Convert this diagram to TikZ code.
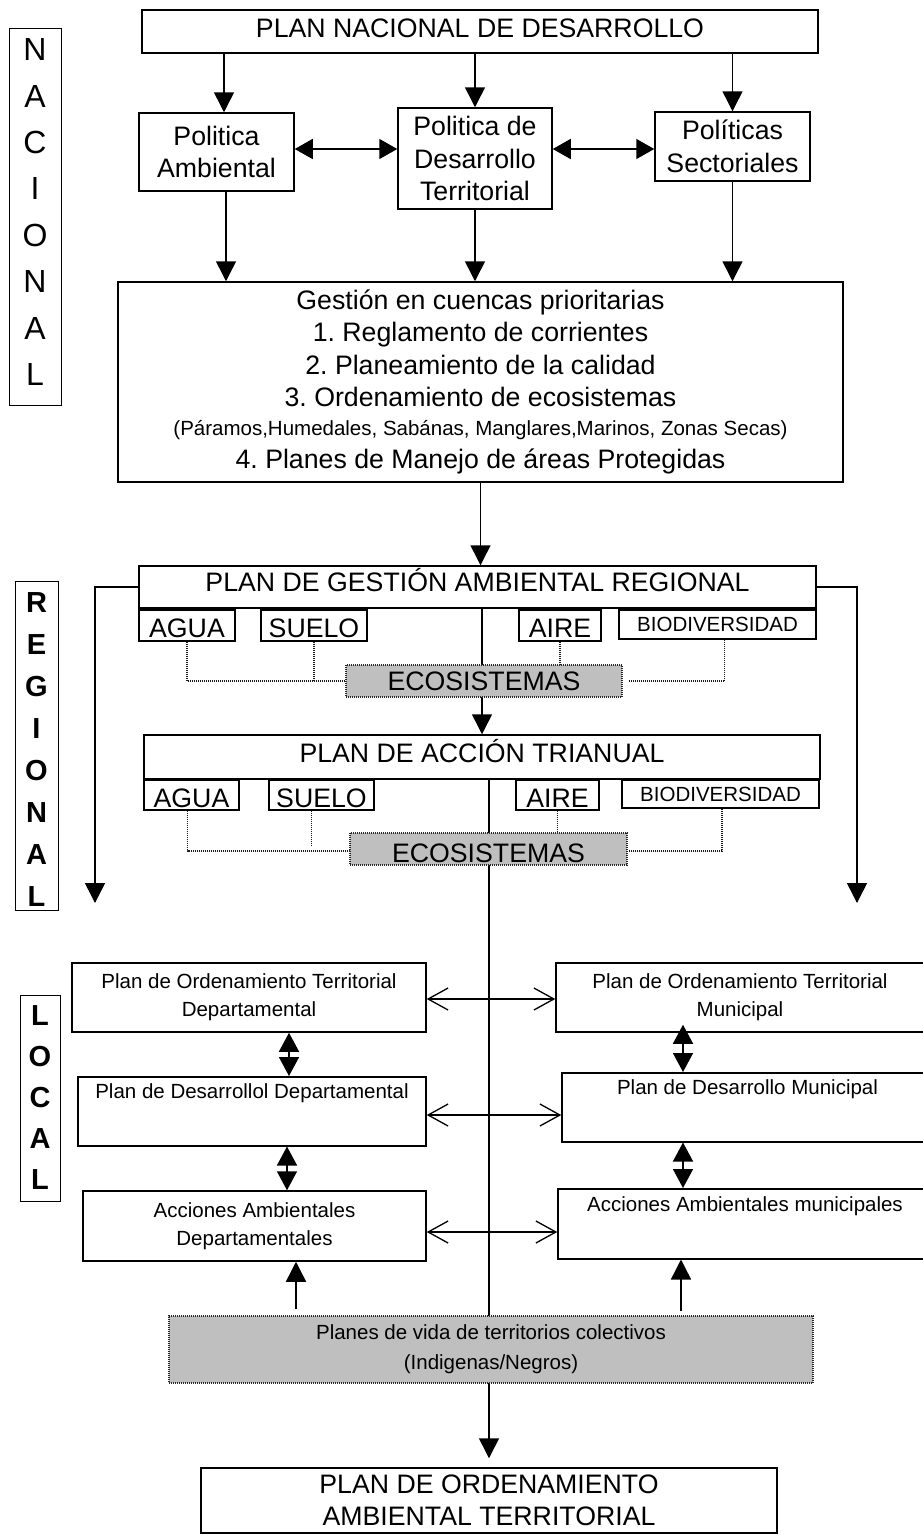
\documentclass[tikz,border=0pt]{standalone}
\usepackage{fontspec}
\setmainfont{Liberation Sans}
\usetikzlibrary{arrows.meta,calc}
\pgfdeclarelayer{bg}
\pgfsetlayers{bg,main}
\newcommand\fbig{\fontsize{26.7}{32.5}\selectfont}
\newcommand\fsmall{\fontsize{20.5}{28}\selectfont}
\newcommand\fnac{\fontsize{32}{46.4}\selectfont}
\newcommand\freg{\fontsize{29}{42}\selectfont\bfseries}
\newcommand\floc{\fontsize{29}{41}\selectfont\bfseries}
\begin{document}
\frenchspacing
\begin{tikzpicture}[x=1pt,y=-1pt,
  box/.style={draw, line width=1.5pt, inner sep=0pt, align=center, font=\fbig},
  sbox/.style={draw, line width=1.5pt, inner sep=0pt, align=center, font=\fsmall},
  subbig/.style={box, text height=24pt, text depth=0pt},
  subsmall/.style={sbox},
  gbox/.style={fill=black!25, draw=black!85, line width=1.2pt, dash pattern=on 1pt off 1pt, inner sep=0pt, align=center},
  sidebox/.style={draw, line width=1.2pt, inner sep=0pt},
  arr/.style={line width=1.5pt, -{Triangle[length=20pt,width=20pt]}},
  darr/.style={line width=1.5pt, {Triangle[length=18pt,width=20pt]}-{Triangle[length=18pt,width=20pt]}},
  ldarr/.style={line width=1.5pt, {Triangle[length=19pt,width=20pt]}-{Triangle[length=19pt,width=20pt]}},
  oarr/.style={line width=1.3pt, {Straight Barb[length=20pt,width=22pt]}-{Straight Barb[length=20pt,width=22pt]}},
  dline/.style={line width=1.1pt, dash pattern=on 1pt off 1pt, black!90}
]
\useasboundingbox (0,0) rectangle (923,1535);

% side labels
\node[sidebox, minimum width=52pt, minimum height=377pt, anchor=north west] (nac) at (9,28) {};
\node[font=\fnac, align=center, inner sep=0pt, anchor=north] (nactxt) at (35,38.5) {N\\A\\C\\I\\O\\N\\A\\L};
\node[sidebox, minimum width=43pt, minimum height=329pt, anchor=north west] (reg) at (15,581) {};
\node[font=\freg, align=center, inner sep=0pt, anchor=north] (regtxt) at (36.5,592.6) {R\\E\\G\\I\\O\\N\\A\\L};
\node[sidebox, minimum width=40pt, minimum height=206pt, anchor=north west] (loc) at (20,995) {};
\node[font=\floc, align=center, inner sep=0pt, anchor=north] (loctxt) at (40,1005.6) {L\\O\\C\\A\\L};

% national level
\node[box, minimum width=676pt, minimum height=43pt, text height=19pt, text depth=8pt] (title) at (480,31.5) {PLAN NACIONAL DE DESARROLLO};
\node[box, minimum width=155pt, minimum height=78pt] (polA) at (216.5,152) {Politica\\Ambiental};
\node[box, minimum width=154pt, minimum height=101pt] (polD) at (475,158.5) {Politica de\\Desarrollo\\Territorial};
\node[box, minimum width=155pt, minimum height=69pt] (polS) at (732.5,146.5) {Políticas\\Sectoriales};
\node[box, minimum width=725pt, minimum height=200pt] (gestion) at (480.5,382) {Gestión en cuencas prioritarias\\1. Reglamento de corrientes\\2. Planeamiento de la calidad\\3. Ordenamiento de ecosistemas\\[-4pt]{\fsmall(Páramos,Humedales, Sabánas, Manglares,Marinos, Zonas Secas)}\\[1pt]4. Planes de Manejo de áreas Protegidas};

% regional level
\node[box, minimum width=677pt, minimum height=42pt, text height=19pt, text depth=10pt] (pgar) at (477.5,587) {PLAN DE GESTIÓN AMBIENTAL REGIONAL};
\node[subbig, minimum width=96pt, minimum height=31pt] (agua1) at (187,625.5) {AGUA};
\node[subbig, minimum width=106pt, minimum height=31pt] (suelo1) at (314,625.5) {SUELO};
\node[subbig, minimum width=82pt, minimum height=31pt] (aire1) at (560,625.5) {AIRE};
\node[subsmall, minimum width=197pt, minimum height=29pt] (bio1) at (717.5,624.5) {BIODIVERSIDAD};
\node[gbox, font=\fbig, minimum width=276pt, minimum height=32pt] (eco1) at (484,681) {ECOSISTEMAS};

\node[box, minimum width=676pt, minimum height=44pt, text height=19pt, text depth=9pt] (pat) at (482,757) {PLAN DE ACCIÓN TRIANUAL};
\node[subbig, minimum width=95pt, minimum height=30pt] (agua2) at (191.5,795) {AGUA};
\node[subbig, minimum width=105pt, minimum height=30pt] (suelo2) at (321.5,795) {SUELO};
\node[subbig, minimum width=83pt, minimum height=30pt] (aire2) at (557.5,795) {AIRE};
\node[subsmall, minimum width=197pt, minimum height=28pt] (bio2) at (720.5,794) {BIODIVERSIDAD};
\node[gbox, font=\fbig, minimum width=277pt, minimum height=32pt, text height=26pt, text depth=0pt] (eco2) at (488.5,849) {ECOSISTEMAS};

% local level
\node[sbox, minimum width=354pt, minimum height=69pt] (potd) at (249,997.5) {Plan de Ordenamiento Territorial\\Departamental};
\node[sbox, minimum width=368pt, minimum height=69pt] (potm) at (740,997.5) {Plan de Ordenamiento Territorial\\Municipal};
\node[sbox, minimum width=348pt, text height=21.3pt, text depth=47.7pt, anchor=north] (pdd) at (252,1076) {Plan de Desarrollol Departamental};
\node[sbox, minimum width=371pt, text height=21.3pt, text depth=47.7pt, anchor=north] (pdm) at (747.5,1072) {Plan de Desarrollo Municipal};
\node[sbox, minimum width=343pt, minimum height=70pt] (aad) at (254.5,1226) {Acciones Ambientales\\Departamentales};
\node[sbox, minimum width=374pt, text height=22.3pt, text depth=47.7pt, anchor=north] (aam) at (745,1188) {Acciones Ambientales municipales};
\node[gbox, font=\fsmall, minimum width=644pt, minimum height=67pt] (planes) at (491,1349.5) {Planes de vida de territorios colectivos\\[2pt](Indigenas/Negros)};
\node[box, minimum width=576pt, minimum height=65pt] (poat) at (489,1500.5) {PLAN DE ORDENAMIENTO\\AMBIENTAL TERRITORIAL};

\begin{pgfonlayer}{bg}
\fill[white] (0,0) rectangle (923,1535);
\coordinate (pa1) at (224,0);
\coordinate (pa2) at (226,0);
\coordinate (dy) at (0,149);
\draw[arr] (pa1 |- title.south) -- (pa1 |- polA.north);
\draw[arr] (polD.north |- title.south) -- (polD.north);
\draw[arr] (polS.north |- title.south) -- (polS.north);
\draw[darr] (polA.east |- dy) -- (polD.west |- dy);
\draw[darr] (polD.east |- dy) -- (polS.west |- dy);
\draw[arr] (pa2 |- polA.south) -- (pa2 |- gestion.north);
\draw[arr] (polD.south) -- (polD.south |- gestion.north);
\draw[arr] (polS.south) -- (polS.south |- gestion.north);
\draw[arr] (gestion.south) -- (gestion.south |- pgar.north);

\coordinate (lend) at (95,903);
\coordinate (rend) at (857,903);
\draw[arr] (pgar.west) -| (lend);
\draw[arr] (pgar.east) -| (rend);
\draw[arr] (pat.north |- pgar.south) -- (pat.north);
\draw[arr, shorten >=9pt] (poat.north |- pat.south) -- (poat.north);

\draw[dline] (agua1.south) |- (eco1.west);
\draw[dline] (suelo1.south) -- (suelo1.south |- eco1.west);
\draw[dline] (aire1.south) -- (aire1.south |- eco1.north);
\draw[dline] ($(bio1.south)+(7,0)$) |- ($(eco1.east)+(6,0)$);

\draw[dline] ($(agua2.south)+(-4,0)$) |- ($(eco2.west)+(0,2)$);
\draw[dline] ($(suelo2.south)+(-10,0)$) -- ($(suelo2.south)+(-10,35)$);
\draw[dline] (aire2.south) -- (aire2.south |- eco2.north);
\draw[dline] ($(bio2.south)+(1.5,0)$) |- ($(eco2.east)+(1,2)$);

\coordinate (y1) at (0,999);
\coordinate (y2) at (0,1115);
\coordinate (y3) at (0,1232);
\draw[oarr] (potd.east |- y1) -- (potm.west |- y1);
\draw[oarr] (pdd.east |- y2) -- (pdm.west |- y2);
\draw[oarr] (aad.east |- y3) -- (aam.west |- y3);

\coordinate (xa) at (289,0);
\coordinate (xb) at (287,0);
\coordinate (xc) at (683,0);
\draw[ldarr] (xa |- potd.south) -- (xa |- pdd.north);
\draw[ldarr] (xb |- pdd.south) -- (xb |- aad.north);
\draw[ldarr, shorten <=-8pt] (xc |- potm.south) -- (xc |- pdm.north);
\draw[ldarr] (xc |- pdm.south) -- (xc |- aam.north);

\coordinate (xd) at (296,0);
\coordinate (xe) at (681,0);
\draw[arr, shorten <=6pt] (xd |- planes.north) -- (xd |- aad.south);
\draw[arr, shorten <=4pt] (xe |- planes.north) -- (xe |- aam.south);
\end{pgfonlayer}
\end{tikzpicture}
\end{document}
